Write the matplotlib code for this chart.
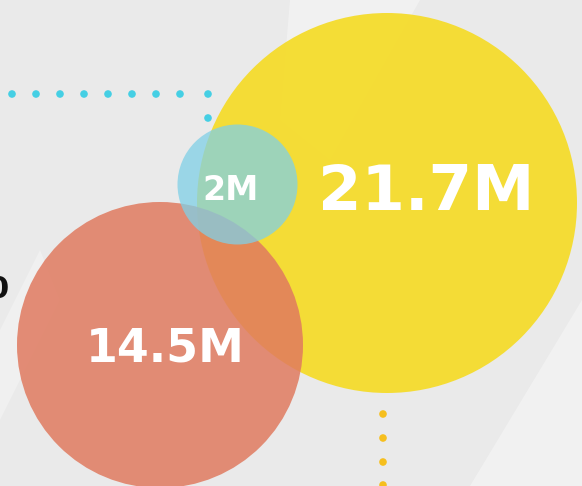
import matplotlib
matplotlib.use("Agg")
import matplotlib.pyplot as plt
from matplotlib.patches import Circle, Polygon

# data
labels = ["21.7M", "14.5M", "2M"]
values = [21.7, 14.5, 2.0]

# layout (pixel space of the 582x486 canvas)
centers = [(387, 203), (160, 345), (237.5, 184.5)]
radii = [190, 143, 60]
colors = ["#F5DC2C", "#E07A5F", "#80D0E6"]
alphas = [0.95, 0.85, 0.75]
font_sizes = [45, 33, 24]
label_pos = [(426, 210), (165, 361), (231, 200)]

fig = plt.figure(figsize=(5.82, 4.86), dpi=100)
fig.patch.set_facecolor("#EAEAEA")
ax = fig.add_axes([0, 0, 1, 1])
ax.set_xlim(0, 582)
ax.set_ylim(486, 0)
ax.set_aspect("equal")
ax.axis("off")

# faint photo texture in the background
ax.add_patch(Polygon([(290, 0), (420, 0), (330, 160), (280, 120)],
                     facecolor="white", alpha=0.35, edgecolor="none", zorder=0))
ax.add_patch(Polygon([(470, 486), (582, 300), (582, 486)],
                     facecolor="white", alpha=0.35, edgecolor="none", zorder=0))
ax.add_patch(Polygon([(0, 330), (40, 250), (60, 300), (0, 420)],
                     facecolor="white", alpha=0.3, edgecolor="none", zorder=0))

for i, v in enumerate(values):
    c = Circle(centers[i], radii[i], facecolor=colors[i], alpha=alphas[i],
               edgecolor="none", zorder=2 + i)
    ax.add_patch(c)
    ax.text(label_pos[i][0], label_pos[i][1], labels[i], color="white",
            fontsize=font_sizes[i], fontweight="bold", family="DejaVu Sans",
            ha="center", va="baseline", zorder=10)

# dotted guides
dot_x = [12, 36, 60, 84, 108, 132, 156, 180, 208, 208]
dot_y = [94] * 9 + [118]
ax.scatter(dot_x, dot_y, s=30, color="#45CFE4", edgecolor="none", zorder=1)

ydot_y = [414, 438, 462, 485]
ax.scatter([383] * len(ydot_y), ydot_y, s=30, color="#F6BF1E",
           edgecolor="none", zorder=1)

# label cut by the left edge, as in the original
ax.text(9, 298, "0", color="#111111", fontsize=22, fontweight="bold",
        family="DejaVu Sans", ha="right", va="baseline", zorder=1)

fig.savefig("out.png", dpi=100, facecolor=fig.get_facecolor())
